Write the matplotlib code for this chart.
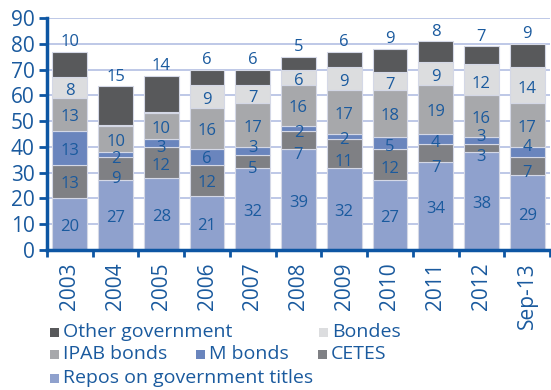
import matplotlib
matplotlib.use("Agg")
import matplotlib.pyplot as plt
from matplotlib.patches import Rectangle
import numpy as np

plt.rcParams['font.family'] = ['Open Sans', 'DejaVu Sans']

years = ["2003", "2004", "2005", "2006", "2007", "2008", "2009", "2010", "2011", "2012", "Sep-13"]
repos = [20, 27, 28, 21, 32, 39, 32, 27, 34, 38, 29]
cetes = [13, 9, 12, 12, 5, 7, 11, 12, 7, 3, 7]
m_bonds = [13, 2, 3, 6, 3, 2, 2, 5, 4, 3, 4]
ipab = [13, 10, 10, 16, 17, 16, 17, 18, 19, 16, 17]
bondes = [8, 0.6, 0.5, 9, 7, 6, 9, 7, 9, 12, 14]
other = [10, 15, 14, 6, 6, 5, 6, 9, 8, 7, 9]

BLUE = "#1a5a9e"
AXIS = "#0d56a3"

# bottom-to-top stacking order
stack = [
    ("Repos on government titles", repos, "#8fa1cd"),
    ("CETES", cetes, "#7f8084"),
    ("M bonds", m_bonds, "#6a85bd"),
    ("IPAB bonds", ipab, "#a7a8ab"),
    ("Bondes", bondes, "#dcdddf"),
    ("Other government", other, "#58595b"),
]

# vertical nudges (data units) for segment labels, per bar
nudge = {
    "Repos on government titles": [-1.2] * 11,
    "CETES": [-1, -4, -1.4, -1, -3, -5.5, -3.5, -1.7, -5.5, -3.5, -2.7],
    "M bonds": [-1, -1.8, -2, -0.8, 1, -1.7, -1.4, -1.5, -1.6, 1.5, 2],
    "IPAB bonds": [-1] * 11,
    "Bondes": [-1.5] * 11,
}

fig = plt.figure(figsize=(5.51, 3.90), dpi=100)
ax = fig.add_axes([47 / 551, 1 - 250 / 390, 503 / 551, 232 / 390])

x = np.arange(len(years))
base = np.zeros(len(years))
for name, vals, color in stack:
    vals = np.array(vals, dtype=float)
    ax.bar(x, vals, bottom=base, width=0.76, color=color,
           edgecolor="#d4d8e6", linewidth=0.8, zorder=2)
    for i, v in enumerate(vals):
        if v < 1:
            continue
        if name == "Other government":
            ax.text(x[i], base[i] + v + 0.6, f"{v:.0f}", ha="center", va="bottom",
                    fontsize=12, color=BLUE, zorder=3)
        else:
            y = base[i] + v / 2 + nudge[name][i]
            ax.text(x[i], y, f"{v:.0f}", ha="center", va="center",
                    fontsize=12, color=BLUE, zorder=3)
    base += vals

ax.set_xlim(-0.5, len(years) - 0.5)
ax.set_ylim(0, 90)
ax.set_yticks(range(0, 91, 10))
ax.yaxis.grid(True, color="#b3bfe3", linewidth=1.2, zorder=0)
ax.set_axisbelow(True)

for side in ("top", "right"):
    ax.spines[side].set_visible(False)
for side in ("left", "bottom"):
    ax.spines[side].set_color(AXIS)
    ax.spines[side].set_linewidth(2.5)

ax.set_xticks(x)
ax.set_xticklabels(years, rotation=90, fontsize=15, color=BLUE)
ax.set_xticks(np.arange(-0.5, len(years)), minor=True)
ax.tick_params(axis="x", which="major", length=0, pad=9)
ax.tick_params(axis="x", which="minor", length=5, width=2, color=AXIS)
ax.tick_params(axis="y", length=6, width=2, color=AXIS, labelsize=15,
               labelcolor=BLUE, pad=3)

# legend laid out in three uneven rows
legend_items = [
    ("Other government", "#58595b", 50, 332),
    ("Bondes", "#dcdddf", 319, 332),
    ("IPAB bonds", "#a7a8ab", 50, 354),
    ("M bonds", "#6a85bd", 196, 354),
    ("CETES", "#7f8084", 318, 354),
    ("Repos on government titles", "#8fa1cd", 50, 378),
]
for text, color, px, py in legend_items:
    fig.add_artist(Rectangle((px / 551, 1 - (py + 4.5) / 390), 9 / 551, 9 / 390,
                             transform=fig.transFigure, facecolor=color,
                             edgecolor="none"))
    fig.text((px + 13) / 551, 1 - py / 390, text, ha="left", va="center",
             fontsize=14, color=BLUE)

fig.savefig("out.png", dpi=100)
